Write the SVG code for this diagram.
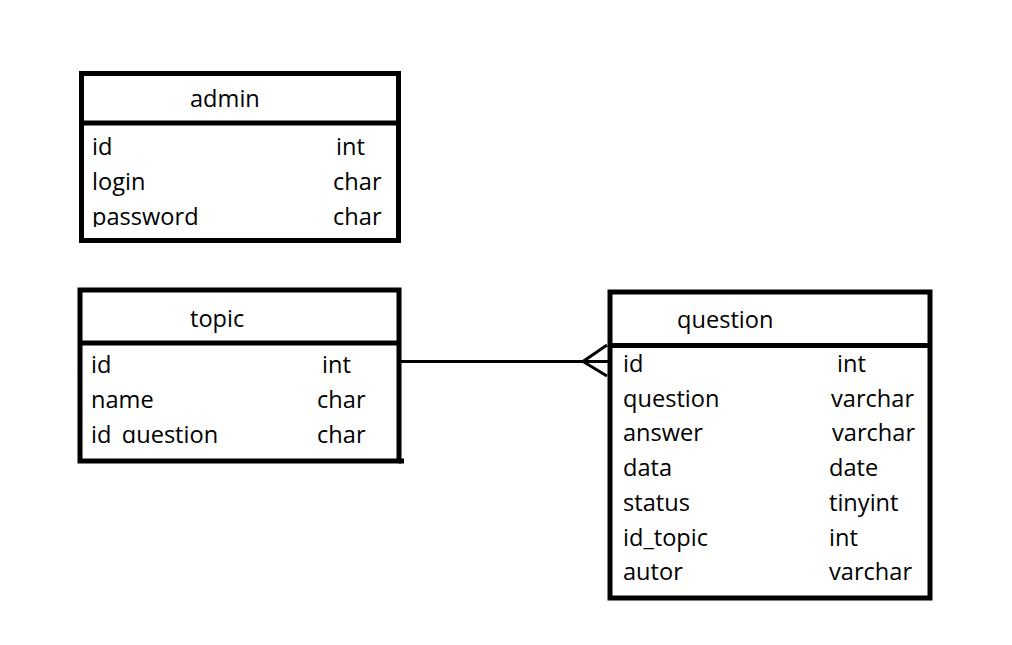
<svg xmlns="http://www.w3.org/2000/svg" width="1012" height="645" viewBox="0 0 1012 645">
<style>
.box{fill:none;stroke:#000;stroke-width:5}
.t{font-family:"Open Sans","Noto Sans",sans-serif;font-size:23.6px;fill:#000}
.c{fill:none;stroke:#000;stroke-width:3}
</style>
<defs>
<clipPath id="clipA"><rect x="84" y="126" width="312" height="101"/></clipPath>
<clipPath id="clipT"><rect x="83" y="346" width="312" height="97"/></clipPath>
</defs>
<rect x="0" y="0" width="1012" height="645" fill="#fff"/>
<g id="admin">
<rect class="box" x="81.5" y="73.5" width="317" height="167"/>
<line class="box" x1="81.5" y1="123" x2="398.5" y2="123"/>
<text class="t" x="190" y="106.5">admin</text>
<g clip-path="url(#clipA)">
<text class="t" x="92" y="155">id</text>
<text class="t" x="92" y="190">login</text>
<text class="t" x="92" y="225">password</text>
<text class="t" x="336" y="155">int</text>
<text class="t" x="333" y="190">char</text>
<text class="t" x="333" y="225">char</text>
</g>
</g>
<g id="topic">
<rect class="box" x="80" y="290" width="319" height="171"/>
<line class="box" x1="80" y1="343" x2="399" y2="343"/>
<line class="box" x1="399" y1="461" x2="404" y2="461"/>
<text class="t" x="190" y="327">topic</text>
<g clip-path="url(#clipT)">
<text class="t" x="91" y="373">id</text>
<text class="t" x="91" y="408">name</text>
<text class="t" x="91" y="443">id_question</text>
<text class="t" x="322" y="373">int</text>
<text class="t" x="317" y="408">char</text>
<text class="t" x="317" y="443">char</text>
</g>
</g>
<g id="question">
<rect class="box" x="610" y="292" width="320" height="306"/>
<line class="box" x1="610" y1="345.5" x2="930" y2="345.5"/>
<text class="t" x="677" y="327.5">question</text>
<text class="t" x="623" y="371.5">id</text>
<text class="t" x="623" y="406.5">question</text>
<text class="t" x="623" y="441">answer</text>
<text class="t" x="623" y="476">data</text>
<text class="t" x="623" y="511">status</text>
<text class="t" x="623" y="545.5">id_topic</text>
<text class="t" x="623" y="580">autor</text>
<text class="t" x="837" y="371.5">int</text>
<text class="t" x="831" y="406.5">varchar</text>
<text class="t" x="832" y="441">varchar</text>
<text class="t" x="829" y="476">date</text>
<text class="t" x="829" y="511">tinyint</text>
<text class="t" x="829" y="545.5">int</text>
<text class="t" x="829" y="580">varchar</text>
</g>
<g id="connectors">
<line class="c" x1="401" y1="361.5" x2="608" y2="361.5"/>
<polyline class="c" points="607,345 583,361.5 607,376"/>
</g>
</svg>
